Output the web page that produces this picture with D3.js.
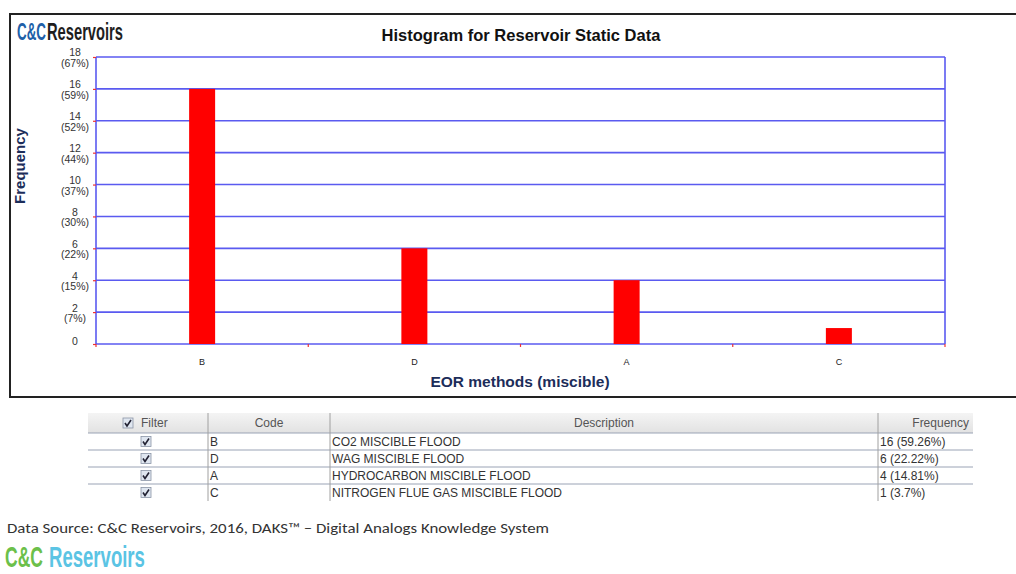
<!DOCTYPE html>
<html>
<head>
<meta charset="utf-8">
<script src="https://cdn.jsdelivr.net/npm/d3@7"></script>
<style>
  html, body { margin: 0; padding: 0; background: #fff; }
  svg { display: block; }
</style>
</head>
<body>
<svg id="chart" width="1016" height="574"></svg>
<script>
// Histogram data: EOR methods (miscible)
const categories = ["B", "D", "A", "C"];
const frequencies = [16, 6, 4, 1];
const yTicks = [0, 2, 4, 6, 8, 10, 12, 14, 16, 18];
const yTickPercents = ["", "(7%)", "(15%)", "(22%)", "(30%)", "(37%)", "(44%)", "(52%)", "(59%)", "(67%)"];

// Summary table
const tableCodes = ["B", "D", "A", "C"];
const tableDescriptions = ["CO2 MISCIBLE FLOOD", "WAG MISCIBLE FLOOD", "HYDROCARBON MISCIBLE FLOOD", "NITROGEN FLUE GAS MISCIBLE FLOOD"];
const tableFrequencies = ["16 (59.26%)", "6 (22.22%)", "4 (14.81%)", "1 (3.7%)"];
const tableHeaders = ["Filter", "Code", "Description", "Frequency"];

const svg = d3.select("#chart");
const gridBlue = "#5a5af0";
const navy = "#1c2d5a";
const fontT = "'Liberation Sans', Arial, sans-serif";
const fontNarrow = "'Liberation Sans Narrow', 'Liberation Sans', Arial, sans-serif";

// Outer frame
svg.append("rect")
  .attr("x", 10).attr("y", 14).attr("width", 1030).attr("height", 383)
  .attr("fill", "#fff").attr("stroke", "#222").attr("stroke-width", 2);

// Wordmark helper: each word is condensed horizontally to its own width
function wordmark(parts, baseline, size) {
  parts.forEach(p => {
    const g = svg.append("g");
    const t = g.append("text")
      .attr("x", 0).attr("y", 0)
      .attr("font-family", fontNarrow)
      .attr("font-weight", "bold").attr("font-size", size)
      .attr("fill", p.color)
      .text(p.text);
    const natural = t.node().getComputedTextLength() || p.w;
    g.attr("transform", `translate(${p.x},${baseline}) scale(${p.w / natural},1)`);
  });
}

// Top-left logo
wordmark([
  { text: "C&C", x: 17, w: 29, color: "#2060a8" },
  { text: "Reservoirs", x: 47, w: 76, color: "#1e1e1e" }
], 40, 23);

// Title
svg.append("text")
  .attr("x", 521).attr("y", 41).attr("text-anchor", "middle")
  .attr("font-family", fontT)
  .attr("font-weight", "bold").attr("font-size", 16.5).attr("fill", "#111")
  .text("Histogram for Reservoir Static Data");

// Plot area
const plot = { left: 96, right: 945, top: 57, bottom: 344 };
const x = d3.scaleBand().domain(categories).range([plot.left, plot.right]).padding(0);
const y = d3.scaleLinear().domain([0, 18]).range([plot.bottom, plot.top]);
const barWidth = 26;

// Horizontal grid lines
svg.append("g").selectAll("line").data(yTicks).join("line")
  .attr("x1", plot.left).attr("x2", plot.right)
  .attr("y1", d => y(d)).attr("y2", d => y(d))
  .attr("stroke", gridBlue).attr("stroke-width", 1.6);

// Plot borders (left axis line + right edge)
svg.append("line").attr("x1", plot.left).attr("x2", plot.left)
  .attr("y1", plot.top).attr("y2", plot.bottom)
  .attr("stroke", gridBlue).attr("stroke-width", 1.6);
svg.append("line").attr("x1", plot.right).attr("x2", plot.right)
  .attr("y1", plot.top).attr("y2", plot.bottom)
  .attr("stroke", gridBlue).attr("stroke-width", 1.6);

// Bars
svg.append("g").selectAll("rect").data(categories).join("rect")
  .attr("x", (d) => x(d) + x.bandwidth() / 2 - barWidth / 2)
  .attr("y", (d, i) => y(frequencies[i]))
  .attr("width", barWidth)
  .attr("height", (d, i) => y(0) - y(frequencies[i]))
  .attr("fill", "#ff0000");

// Y axis with two-line tick labels (count above, share below)
const labelX = -21;
const yAxis = svg.append("g")
  .attr("transform", `translate(${plot.left},0)`)
  .call(d3.axisLeft(y).tickValues(yTicks).tickSize(3).tickPadding(0));
yAxis.select(".domain").remove();
yAxis.selectAll(".tick line").attr("stroke", "#e33").attr("stroke-width", 1.2);
yAxis.selectAll(".tick text").each(function(d, i) {
  const t = d3.select(this);
  t.text(null).attr("x", labelX).attr("y", 0).attr("text-anchor", "middle")
    .attr("font-family", fontT)
    .attr("font-size", 10.5).attr("fill", "#333").attr("dy", null);
  const pct = yTickPercents[i];
  t.append("tspan").attr("x", labelX).attr("dy", pct ? "-0.1em" : "0").text(d);
  if (pct) {
    t.append("tspan").attr("x", labelX).attr("dy", "1.0em").text(pct);
  }
});

// X axis: ticks at band boundaries, labels centred in bands
const xAxisG = svg.append("g").attr("transform", `translate(0,${plot.bottom})`);
const boundaries = categories.map(c => x(c)).concat([plot.right]);
xAxisG.selectAll("line").data(boundaries).join("line")
  .attr("x1", d => d).attr("x2", d => d).attr("y1", 0).attr("y2", 3)
  .attr("stroke", "#e33").attr("stroke-width", 1.2);
xAxisG.selectAll("text").data(categories).join("text")
  .attr("x", d => x(d) + x.bandwidth() / 2).attr("y", 21)
  .attr("text-anchor", "middle")
  .attr("font-family", fontT)
  .attr("font-size", 9).attr("fill", "#222")
  .text(d => d);

// Axis titles
svg.append("text")
  .attr("x", 520).attr("y", 387).attr("text-anchor", "middle")
  .attr("font-family", fontT)
  .attr("font-weight", "bold").attr("font-size", 15.5).attr("fill", navy)
  .text("EOR methods (miscible)");
svg.append("text")
  .attr("transform", "translate(25,166) rotate(-90)")
  .attr("text-anchor", "middle")
  .attr("font-family", fontT)
  .attr("font-weight", "bold").attr("font-size", 15).attr("fill", navy)
  .text("Frequency");

// ---- Summary table ----
const tbl = { left: 88, right: 973, top: 413, headerH: 20, rowH: 17 };
const colX = [tbl.left, 208, 330, 878, tbl.right];
const tableG = svg.append("g");

const defs = svg.append("defs");
const hg = defs.append("linearGradient").attr("id", "hdr").attr("x1", 0).attr("x2", 0).attr("y1", 0).attr("y2", 1);
hg.append("stop").attr("offset", "0%").attr("stop-color", "#f4f4f4");
hg.append("stop").attr("offset", "100%").attr("stop-color", "#e2e2e2");

tableG.append("rect")
  .attr("x", tbl.left).attr("y", tbl.top)
  .attr("width", tbl.right - tbl.left).attr("height", tbl.headerH)
  .attr("fill", "url(#hdr)");

const tableBottom = tbl.top + tbl.headerH + tbl.rowH * tableCodes.length;

// Horizontal row lines
const rowLines = d3.range(tableCodes.length).map(i => tbl.top + tbl.headerH + i * tbl.rowH);
tableG.selectAll("line.row").data(rowLines).join("line")
  .attr("class", "row")
  .attr("x1", tbl.left).attr("x2", tbl.right)
  .attr("y1", d => d).attr("y2", d => d)
  .attr("stroke", "#9aa3b5").attr("stroke-width", 1);

// Column separators
tableG.selectAll("line.col").data(colX.slice(1, 4)).join("line")
  .attr("class", "col")
  .attr("x1", d => d).attr("x2", d => d)
  .attr("y1", tbl.top).attr("y2", tableBottom)
  .attr("stroke", "#a0a0a0").attr("stroke-width", 1);

function checkbox(g, cx, cy) {
  g.append("rect").attr("x", cx - 5).attr("y", cy - 5).attr("width", 10).attr("height", 10)
    .attr("fill", "#dfe6f0").attr("stroke", "#8a94a6").attr("stroke-width", 0.8);
  g.append("path")
    .attr("d", `M${cx - 3},${cy} L${cx - 1},${cy + 3} L${cx + 3},${cy - 3}`)
    .attr("fill", "none").attr("stroke", "#223").attr("stroke-width", 1.6);
}

// Header
checkbox(tableG, 128, tbl.top + 10);
tableG.append("text").attr("x", 141).attr("y", tbl.top + 14)
  .attr("font-family", fontT).attr("font-size", 12).attr("fill", "#555").text(tableHeaders[0]);
[1, 2, 3].forEach(c => {
  tableG.append("text")
    .attr("x", c === 3 ? colX[4] - 4 : (colX[c] + colX[c + 1]) / 2)
    .attr("y", tbl.top + 14)
    .attr("text-anchor", c === 3 ? "end" : "middle")
    .attr("font-family", fontT).attr("font-size", 12).attr("fill", "#555")
    .text(tableHeaders[c]);
});

// Rows
tableCodes.forEach((code, i) => {
  const top = tbl.top + tbl.headerH + i * tbl.rowH;
  checkbox(tableG, 146, top + 8.5);
  const base = top + 13;
  tableG.append("text").attr("x", colX[1] + 2).attr("y", base)
    .attr("font-family", fontT).attr("font-size", 12).attr("fill", "#333").text(code);
  tableG.append("text").attr("x", colX[2] + 2).attr("y", base)
    .attr("font-family", fontT).attr("font-size", 12).attr("fill", "#333").text(tableDescriptions[i]);
  tableG.append("text").attr("x", colX[3] + 2).attr("y", base)
    .attr("font-family", fontT).attr("font-size", 12).attr("fill", "#333").text(tableFrequencies[i]);
});

// Footer: data source and logo
svg.append("text")
  .attr("x", 7).attr("y", 533)
  .attr("font-family", "Carlito, 'Open Sans', 'Liberation Sans', sans-serif")
  .attr("font-size", 14).attr("fill", "#333")
  .attr("textLength", 542).attr("lengthAdjust", "spacingAndGlyphs")
  .text("Data Source: C&C Reservoirs, 2016, DAKS\u2122 \u2013 Digital Analogs Knowledge System");

wordmark([
  { text: "C&C", x: 5, w: 38, color: "#6cc04a" },
  { text: "Reservoirs", x: 49, w: 96, color: "#5bc4e4" }
], 567, 29);
</script>
</body>
</html>
